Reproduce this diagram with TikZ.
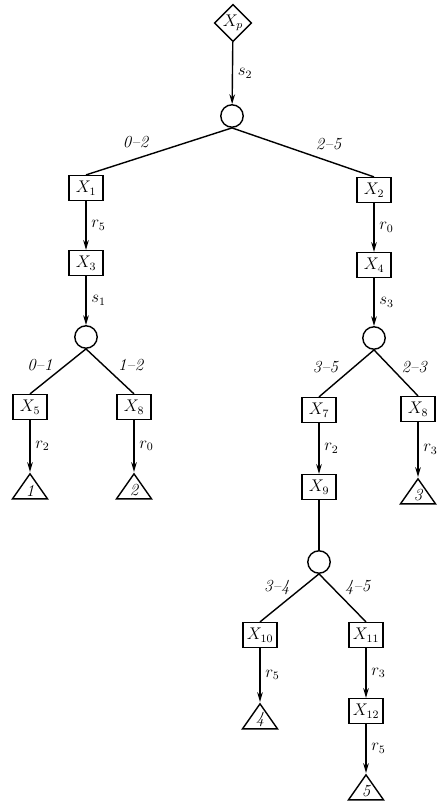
\documentclass[tikz,border=0pt]{standalone}
\usepackage{amsmath}
\usetikzlibrary{arrows.meta,shapes.geometric}

\tikzset{
  xbox/.style={draw,line width=1pt,minimum width=0.85cm,minimum height=0.62cm,inner sep=1pt,font=\large},
  chance/.style={draw,line width=1pt,circle,minimum size=0.56cm,inner sep=0pt},
  result/.style={draw,line width=1pt,isosceles triangle,shape border rotate=90,
    isosceles triangle stretches,minimum width=0.875cm,minimum height=0.625cm,
    inner sep=0pt,anchor=apex,font=\large\itshape},
  start/.style={draw,line width=1pt,diamond,minimum size=0.93cm,inner sep=0pt,font=\large},
  move/.style={line width=1pt,-{Stealth[length=7pt,width=4pt]}},
  split/.style={line width=1pt},
  lab/.style={font=\large\itshape},
  elab/.style={right,font=\large},
}

\begin{document}
\begin{tikzpicture}[x=0.025cm,y=-0.025cm]
  \useasboundingbox (0,0) rectangle (436,803);
  % root
  \node[start] (xp) at (233,23) {$X_p$};
  \node[chance] (c1) at (232,116) {};
  \draw[move] (xp) -- node[elab]{$s_2$} (c1);
  \node[xbox] (x1) at (86,188) {$X_1$};
  \node[xbox] (x2) at (374,190) {$X_2$};
  \draw[split] (c1.south) -- node[lab,pos=.66,above=4pt]{0--2} (x1.north);
  \draw[split] (c1.south) -- node[lab,pos=.68,above=4pt]{2--5} (x2.north);

  % left branch
  \node[xbox] (x3) at (86,263) {$X_3$};
  \node[chance] (c2) at (86,337) {};
  \draw[move] (x1) -- node[elab]{$r_5$} (x3);
  \draw[move] (x3) -- node[elab]{$s_1$} (c2);
  \node[xbox] (x5) at (30,407) {$X_5$};
  \node[xbox] (x8a) at (134,407) {$X_8$};
  \draw[split] (c2.south) -- node[lab,pos=.35,left=6pt]{0--1} (x5.north);
  \draw[split] (c2.south) -- node[lab,pos=.35,right=7pt]{1--2} (x8a.north);
  \node[result] (t1) at (30,472) {1};
  \node[result] (t2) at (134,472) {2};
  \draw[move] (x5) -- node[elab]{$r_2$} (t1.apex);
  \draw[move] (x8a) -- node[elab]{$r_0$} (t2.apex);

  % right branch
  \node[xbox] (x4) at (374,265) {$X_4$};
  \node[chance] (c3) at (374,338) {};
  \draw[move] (x2) -- node[elab]{$r_0$} (x4);
  \draw[move] (x4) -- node[elab]{$s_3$} (c3);
  \node[xbox] (x7) at (319,410) {$X_7$};
  \node[xbox] (x8b) at (418,409) {$X_8$};
  \draw[split] (c3.south) -- node[lab,pos=.375,left=7pt]{3--5} (x7.north);
  \draw[split] (c3.south) -- node[lab,pos=.375,right=4pt]{2--3} (x8b.north);
  \node[result] (t3) at (418,477) {3};
  \draw[move] (x8b) -- node[elab]{$r_3$} (t3.apex);
  \node[xbox] (x9) at (319,487) {$X_9$};
  \draw[move] (x7) -- node[elab]{$r_2$} (x9);

  % lower subtree
  \node[chance] (c4) at (319,562) {};
  \draw[split] (x9) -- (c4);
  \node[xbox] (x10) at (260,635) {$X_{10}$};
  \node[xbox] (x11) at (366,635) {$X_{11}$};
  \draw[split] (c4.south) -- node[lab,pos=.29,left=5pt]{3--4} (x10.north);
  \draw[split] (c4.south) -- node[lab,pos=.29,right=5pt]{4--5} (x11.north);
  \node[result] (t4) at (260,702) {4};
  \draw[move] (x10) -- node[elab]{$r_5$} (t4.apex);
  \node[xbox] (x12) at (366,711) {$X_{12}$};
  \draw[move] (x11) -- node[elab]{$r_3$} (x12);
  \node[result] (t5) at (366,773) {5};
  \draw[move] (x12) -- node[elab]{$r_5$} (t5.apex);
\end{tikzpicture}
\end{document}
